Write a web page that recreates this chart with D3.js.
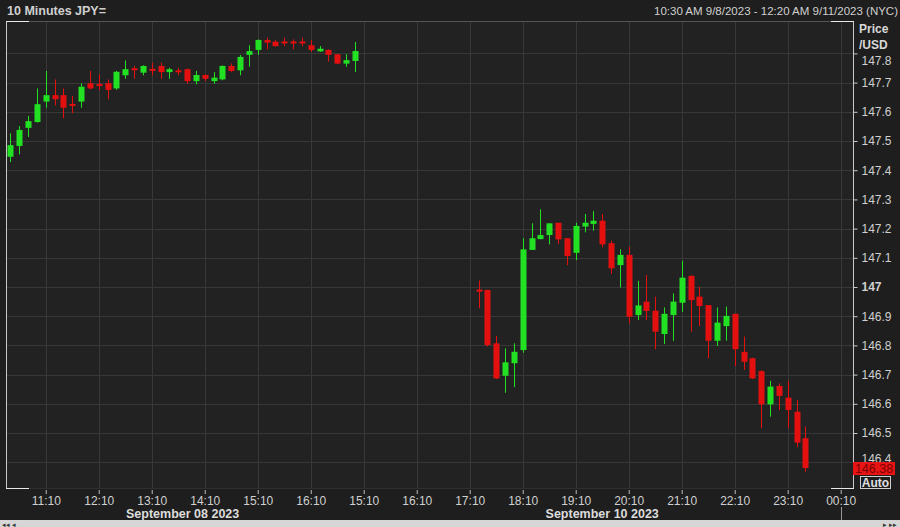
<!DOCTYPE html>
<html><head><meta charset="utf-8">
<script src="https://cdn.jsdelivr.net/npm/d3@7"></script>
<style>
body{margin:0;background:#1e1e1e;}
text{font-family:"Liberation Sans",Arial,sans-serif;}
</style>
</head><body>
<svg id="c" width="900" height="527"></svg>
<script>
// ---- data ----
const slot  = [0,1,2,3,4,5,6,7,8,9,10,11,12,13,14,15,16,17,18,19,20,21,22,23,24,25,26,27,28,29,30,31,32,33,34,35,36,37,38,39,
               53,54,55,56,57,58,59,60,61,62,63,64,65,66,67,68,69,70,71,72,73,74,75,76,77,78,79,80,81,82,83,84,85,86,87,88,89,90];
const open  = [147.446,147.483,147.545,147.565,147.635,147.657,147.657,147.627,147.635,147.698,147.695,147.698,147.680,147.725,147.749,147.734,147.747,147.757,147.736,147.742,
               147.746,147.705,147.726,147.705,147.711,147.757,147.742,147.795,147.812,147.846,147.840,147.841,147.841,147.841,147.828,147.807,147.812,147.797,147.765,147.774,
               146.991,146.990,146.807,146.696,146.739,146.784,147.127,147.164,147.178,147.220,147.167,147.117,147.207,147.216,147.227,147.150,147.075,147.110,146.904,146.950,
               146.919,146.839,146.904,146.946,147.038,146.967,146.938,146.816,146.866,146.908,146.778,146.756,146.712,146.598,146.661,146.621,146.573,146.482];
const high  = [147.526,147.551,147.586,147.680,147.740,147.711,147.680,147.654,147.698,147.740,147.728,147.711,147.740,147.776,147.757,147.759,147.768,147.768,147.751,147.751,
               147.748,147.740,147.728,147.736,147.759,147.766,147.795,147.828,147.848,147.854,147.846,147.854,147.848,147.854,147.846,147.825,147.814,147.797,147.797,147.839,
               147.022,146.990,146.832,146.790,146.807,147.167,147.218,147.266,147.218,147.220,147.167,147.220,147.250,147.260,147.250,147.159,147.129,147.138,147.021,147.041,
               146.967,146.930,146.978,147.090,147.041,147.001,146.938,146.930,146.933,146.908,146.830,146.758,146.715,146.679,146.670,146.679,146.613,146.522];
const low   = [147.428,147.454,147.514,147.563,147.614,147.622,147.578,147.595,147.614,147.677,147.674,147.643,147.675,147.713,147.713,147.725,147.725,147.713,147.713,147.725,
               147.696,147.694,147.705,147.696,147.708,147.736,147.725,147.754,147.795,147.814,147.823,147.825,147.814,147.825,147.805,147.805,147.772,147.763,147.754,147.736,
               146.927,146.796,146.685,146.638,146.657,146.775,147.127,147.164,147.146,147.147,147.075,147.092,147.187,147.193,147.136,147.045,146.998,146.876,146.887,146.887,
               146.787,146.805,146.816,146.915,146.847,146.866,146.756,146.798,146.816,146.729,146.716,146.685,146.516,146.556,146.579,146.516,146.451,146.367];
const close = [147.486,147.538,147.568,147.626,147.657,147.643,147.614,147.625,147.686,147.680,147.693,147.675,147.737,147.746,147.747,147.757,147.745,147.736,147.746,147.740,
               147.705,147.726,147.713,147.717,147.757,147.740,147.788,147.808,147.846,147.837,147.825,147.839,147.839,147.839,147.812,147.816,147.795,147.765,147.777,147.808,
               146.989,146.801,146.687,146.742,146.778,147.129,147.167,147.178,147.218,147.163,147.106,147.209,147.220,147.227,147.146,147.064,147.110,146.898,146.937,146.918,
               146.847,146.908,146.950,147.032,146.955,146.935,146.816,146.878,146.901,146.787,146.744,146.687,146.598,146.659,146.627,146.579,146.467,146.380];
const xTickSlots  = [4,10,16,22,28,34,40,46,52,58,64,70,76,82,88,94];
const xTickLabels = ["11:10","12:10","13:10","14:10","15:10","16:10","15:10","16:10","17:10","18:10","19:10","20:10","21:10","22:10","23:10","00:10"];
const dateLabels  = ["September 08 2023","September 10 2023"];
const dateSlots   = [19.5,67];
const yTicks = [146.4,146.5,146.6,146.7,146.8,146.9,147,147.1,147.2,147.3,147.4,147.5,147.6,147.7,147.8];
const lastPrice = 146.38;
const title = "10 Minutes JPY=";
const range = "10:30 AM 9/8/2023 - 12:20 AM 9/11/2023 (NYC)";

// ---- layout ----
const W=900,H=527;
const P={l:6,r:853,t:21,b:488};
const svg=d3.select("#c");
const x=d3.scaleLinear().domain([0,94]).range([10.4,840.7]);
const y=d3.scaleLinear().domain([146.4,147.8]).range([462.2,53.4]);
const GREEN="#22e022", RED="#e41010";

svg.append("rect").attr("width",W).attr("height",H).attr("fill","#1e1e1e");
svg.append("rect").attr("x",P.l).attr("y",P.t).attr("width",P.r-P.l).attr("height",P.b-P.t).attr("fill","#222222");

// grid
const g=svg.append("g");
g.selectAll("line.v").data(xTickSlots).join("line")
 .attr("x1",d=>Math.round(x(d))+0.5).attr("x2",d=>Math.round(x(d))+0.5)
 .attr("y1",P.t).attr("y2",P.b).attr("stroke","#383838").attr("stroke-width",1);
g.selectAll("line.h").data(yTicks).join("line")
 .attr("x1",P.l).attr("x2",P.r).attr("y1",d=>Math.round(y(d))+0.5).attr("y2",d=>Math.round(y(d))+0.5)
 .attr("stroke","#383838").attr("stroke-width",1);

// frame
svg.append("line").attr("x1",P.l).attr("x2",P.r).attr("y1",P.t+0.5).attr("y2",P.t+0.5).attr("stroke","#555");
svg.append("line").attr("x1",P.l).attr("x2",P.r).attr("y1",P.b+0.5).attr("y2",P.b+0.5).attr("stroke","#2e2e2e");
svg.append("line").attr("x1",P.l+0.5).attr("x2",P.l+0.5).attr("y1",P.t).attr("y2",P.b+1).attr("stroke","#c8c8c8");
svg.append("line").attr("x1",P.r+0.5).attr("x2",P.r+0.5).attr("y1",P.t).attr("y2",P.b+1).attr("stroke","#c8c8c8");
[[P.l,P.t],[P.l,P.b],[P.r-22,P.t],[P.r-22,P.b]].forEach(([a,b])=>{
  svg.append("line").attr("x1",a).attr("x2",a+23).attr("y1",b+0.5).attr("y2",b+0.5).attr("stroke","#e8e8e8");
});

// candles
const data=slot.map((s,i)=>({s,o:open[i],h:high[i],l:low[i],c:close[i]}));
const cg=svg.append("g");
const cand=cg.selectAll("g").data(data).join("g");
cand.append("line")
 .attr("x1",d=>Math.round(x(d.s))+0.5).attr("x2",d=>Math.round(x(d.s))+0.5)
 .attr("y1",d=>y(d.h)).attr("y2",d=>y(d.l))
 .attr("stroke",d=>d.c>=d.o?GREEN:RED).attr("stroke-width",1);
cand.append("rect")
 .attr("x",d=>Math.round(x(d.s))-2.5).attr("width",6)
 .attr("y",d=>Math.min(y(d.o),y(d.c)))
 .attr("height",d=>Math.max(2,Math.abs(y(d.o)-y(d.c))))
 .attr("fill",d=>d.c>=d.o?GREEN:RED);

// y axis
const ya=svg.append("g").attr("transform",`translate(${P.r+0.5},0)`)
 .call(d3.axisRight(y).tickValues(yTicks).tickSize(4).tickPadding(4).tickFormat(d=>d===147?"147":d3.format(".1f")(d)));
ya.select(".domain").remove();
ya.selectAll("line").attr("stroke","#c8c8c8");
ya.selectAll("text").attr("fill","#d0d0d0").attr("font-size",12)
 .attr("font-weight",d=>d===147?"bold":"normal")
 .attr("y",d=>Math.max(0,61-y(d)) - (d===146.4?4:0));
// header
svg.append("text").attr("x",859).attr("y",33).text("Price").attr("fill","#d8d8d8").attr("font-size",12).attr("font-weight","bold");
svg.append("text").attr("x",859).attr("y",49).text("/USD").attr("fill","#d8d8d8").attr("font-size",12).attr("font-weight","bold");

// last price label
svg.append("rect").attr("x",853).attr("y",y(lastPrice)-6).attr("width",42).attr("height",13).attr("fill","#e81414");
svg.append("text").attr("x",874).attr("y",y(lastPrice)+5).attr("text-anchor","middle").text(d3.format(".2f")(lastPrice))
 .attr("fill","#7a0000").attr("font-size",12.5);
svg.append("rect").attr("x",860.5).attr("y",476.5).attr("width",30).attr("height",12).attr("fill","#1e1e1e").attr("stroke","#cfcfcf");
svg.append("text").attr("x",875.5).attr("y",486.5).attr("text-anchor","middle").text("Auto").attr("fill","#e0e0e0").attr("font-size",12).attr("font-weight","bold");

// x axis
const xa=svg.append("g").attr("transform",`translate(0,${P.b+1})`)
 .call(d3.axisBottom(x).tickValues(xTickSlots).tickSize(5).tickPadding(2).tickFormat((d,i)=>xTickLabels[i]));
xa.select(".domain").remove();
xa.selectAll("line").attr("stroke","#bbbbbb").attr("y1",1);
xa.selectAll("text").attr("fill","#d0d0d0").attr("font-size",12);
svg.append("line").attr("x1",Math.round(x(94))+0.5).attr("x2",Math.round(x(94))+0.5).attr("y1",507).attr("y2",520).attr("stroke","#999");
svg.selectAll("text.date").data(dateLabels).join("text").attr("class","date")
 .attr("x",(d,i)=>x(dateSlots[i])).attr("y",518).attr("text-anchor","middle").text(d=>d)
 .attr("fill","#dcdcdc").attr("font-size",12.5).attr("font-weight","bold");

// titles
svg.append("text").attr("x",7).attr("y",15).text(title).attr("fill","#d0d0d0").attr("font-size",12.5).attr("font-weight","bold");
svg.append("text").attr("x",898).attr("y",15).attr("text-anchor","end").text(range).attr("fill","#d0d0d0").attr("font-size",11.5);

// bottom strip
svg.append("rect").attr("x",0).attr("y",520).attr("width",W).attr("height",7).attr("fill","#d6d6d6");
svg.append("text").attr("x",2).attr("y",526.5).text("◂◂ ◂").attr("fill","#333").attr("font-size",7);
svg.append("text").attr("x",897).attr("y",526.5).attr("text-anchor","end").text("▸ ▸▸").attr("fill","#333").attr("font-size",7);
</script>
</body></html>
